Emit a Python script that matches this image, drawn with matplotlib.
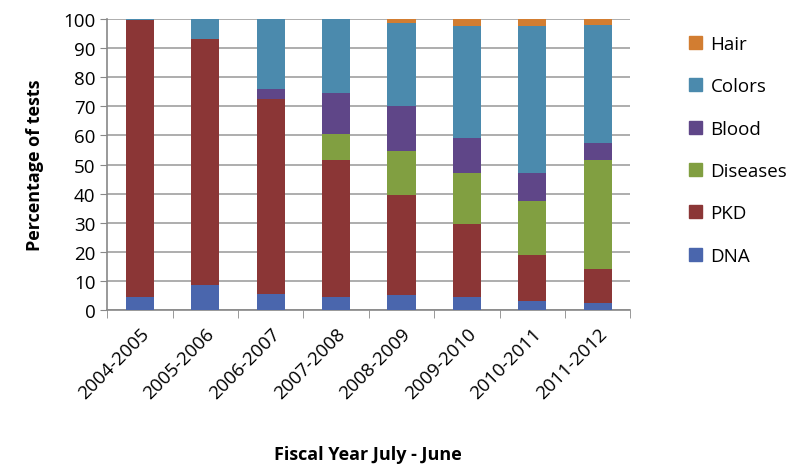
import numpy as np
import matplotlib.pyplot as plt
from matplotlib.patches import Patch

years = ['2004-2005', '2005-2006', '2006-2007', '2007-2008',
         '2008-2009', '2009-2010', '2010-2011', '2011-2012']
dna = [4.5, 8.5, 5.5, 4.5, 5.0, 4.5, 3.0, 2.5]
pkd = [95.0, 84.5, 67.0, 47.0, 34.5, 25.0, 16.0, 11.5]
diseases = [0, 0, 0, 9.0, 15.0, 17.5, 18.5, 37.5]
blood = [0, 0, 3.5, 14.0, 15.5, 12.0, 9.5, 6.0]
colors = [0.5, 7.0, 24.0, 25.5, 28.5, 38.5, 50.5, 40.5]
hair = [0, 0, 0, 0, 1.5, 2.5, 2.5, 2.0]

names = ['DNA', 'PKD', 'Diseases', 'Blood', 'Colors', 'Hair']
series = [dna, pkd, diseases, blood, colors, hair]
cols = ['#4a66ad', '#8b3636', '#819f41', '#5f4688', '#4b8aad', '#d27d31']

plt.rcParams['font.family'] = ['Open Sans', 'DejaVu Sans']

fig = plt.figure(figsize=(8, 4.77), dpi=100)
ax = fig.add_axes([0.134, 0.348, 0.654, 0.61])

x = np.arange(len(years))
bottom = np.zeros(len(years))
for vals, c in zip(series, cols):
    ax.bar(x, vals, 0.43, bottom=bottom, color=c, zorder=3)
    bottom += np.array(vals)

ax.set_ylim(0, 100)
ax.set_xlim(-0.5, len(years) - 0.5)
ax.set_yticks(range(0, 101, 10))
ax.tick_params(axis='y', labelsize=13.5, color='#888888', length=5)
ax.yaxis.grid(True, color='#a0a0a0', linewidth=1.2, zorder=0)

ax.set_xticks(x)
ax.set_xticklabels(years, rotation=45, ha='right', rotation_mode='anchor', fontsize=13.5)
ax.set_xticks(np.arange(-0.5, len(years)), minor=True)
ax.tick_params(axis='x', which='major', length=0, pad=10)
ax.tick_params(axis='x', which='minor', length=6, color='#888888')

for s in ['top', 'right']:
    ax.spines[s].set_visible(False)
for s in ['left', 'bottom']:
    ax.spines[s].set_color('#888888')
    ax.spines[s].set_linewidth(1.2)

ax.set_ylabel('Percentage of tests', fontsize=13, fontweight='bold', labelpad=14)
fig.text(0.46, 0.035, 'Fiscal Year July - June', fontsize=13, fontweight='bold', ha='center')

handles = [Patch(color=c, label=n) for n, c in zip(names, cols)][::-1]
fig.legend(handles=handles, loc='upper left', bbox_to_anchor=(0.84, 0.96), frameon=False,
           fontsize=13.5, labelspacing=1.3, handlelength=0.7, handleheight=0.7, handletextpad=0.45)

fig.savefig('out.png', dpi=100)
